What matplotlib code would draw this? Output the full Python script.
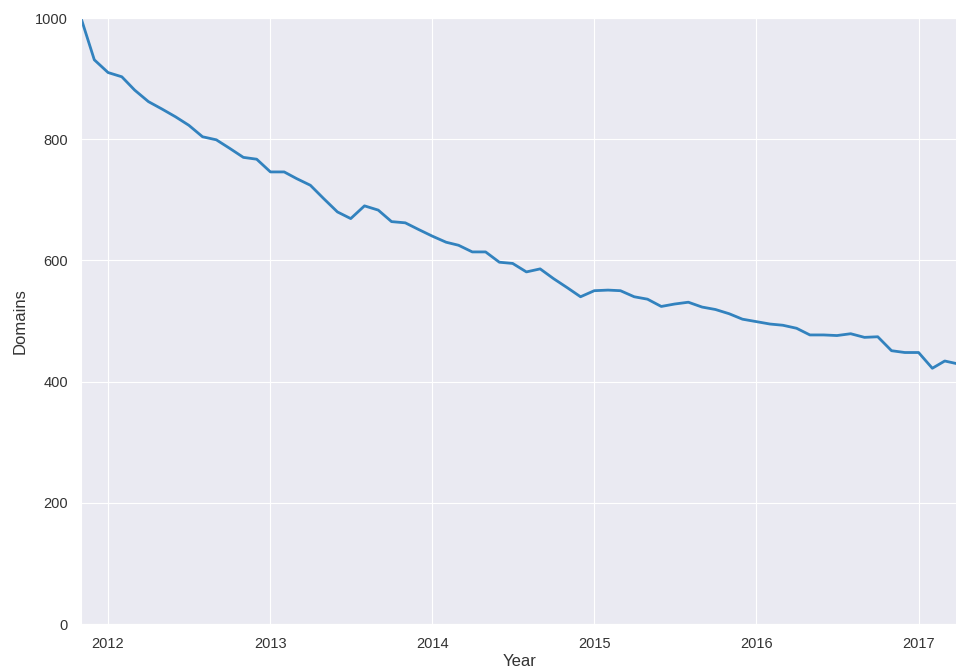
import matplotlib
matplotlib.use("Agg")
import matplotlib.pyplot as plt
import matplotlib.dates as mdates
import pandas as pd
import seaborn as sns

start_month = "2011-11-01"
domains = [1000, 931, 910, 903, 881, 862, 850, 837, 823, 804, 799, 785, 770, 767,
           746, 746, 735, 724, 702, 680, 669, 690, 683, 664, 662, 651, 640, 630,
           625, 614, 614, 597, 595, 581, 586, 570, 555, 540, 550, 551, 550, 540,
           536, 524, 528, 531, 523, 519, 512, 503, 499, 495, 493, 488, 477, 477,
           476, 479, 473, 474, 451, 448, 448, 422, 434, 429]
dates = pd.date_range(start_month, periods=len(domains), freq="MS")
y_ticks = [0, 200, 400, 600, 800, 1000]

sns.set_style("darkgrid")
plt.rcParams['font.family'] = ['Liberation Sans', 'DejaVu Sans']

fig = plt.figure(figsize=(9.56, 6.67), dpi=100)
ax = fig.add_axes([81/956, 43/667, 877.5/956, 606/667])
ax.plot(dates, domains, color='#3282be', linewidth=2)
ax.set_xlim(dates[0], dates[-1])
ax.set_ylim(0, 1000)
ax.set_yticks(y_ticks)
ax.xaxis.set_major_locator(mdates.YearLocator())
ax.xaxis.set_major_formatter(mdates.DateFormatter('%Y'))
ax.tick_params(labelsize=10.5, colors='#333333', pad=6)
ax.set_xlabel('Year', fontsize=12, color='#333333', labelpad=2)
ax.set_ylabel('Domains', fontsize=12, color='#333333', labelpad=5)
fig.savefig('out.png', dpi=100)
